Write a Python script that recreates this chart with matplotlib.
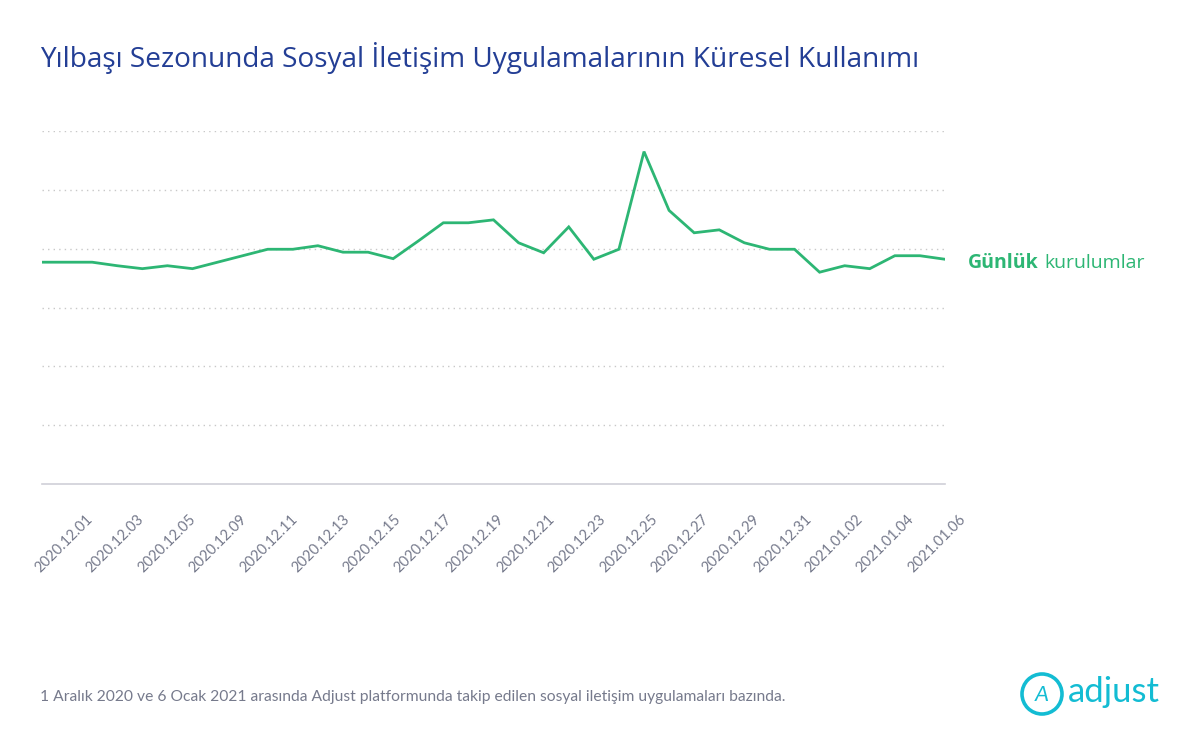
import matplotlib
matplotlib.use("Agg")
import matplotlib.pyplot as plt
from matplotlib.patches import Circle
import numpy as np

# daily installs (relative index), 2020.12.01 .. 2021.01.06
days = list(range(37))
installs = [377, 377, 377, 371, 366, 371, 366, 377, 388, 399,
            399, 405, 394, 394, 383, 413, 444, 444, 449, 410,
            393, 437, 382, 399, 565, 465, 427, 432, 410, 399,
            399, 360, 371, 366, 388, 388, 382]

tick_labels = ['2020.12.01', '2020.12.03', '2020.12.05', '2020.12.09', '2020.12.11',
               '2020.12.13', '2020.12.15', '2020.12.17', '2020.12.19', '2020.12.21',
               '2020.12.23', '2020.12.25', '2020.12.27', '2020.12.29', '2020.12.31',
               '2021.01.02', '2021.01.04', '2021.01.06']

green = '#2db674'
navy = '#233e95'
grey = '#767a8c'

plt.rcParams['font.family'] = ['Lato', 'DejaVu Sans']

fig = plt.figure(figsize=(12, 7.44), dpi=100)
ax = fig.add_axes([0.035, 1 - 484 / 744, 0.7525, (484 - 131) / 744])

ax.plot(days, installs, color=green, lw=2.0, solid_joinstyle='miter')
ax.set_xlim(0, 36)
ax.set_ylim(0, 600)
ax.set_yticks([100, 200, 300, 400, 500, 600])
ax.yaxis.grid(True, linestyle=(0, (1, 3)), color='#c8c8c8', lw=1)
ax.tick_params(axis='y', length=0, labelleft=False)
for s in ['top', 'right', 'left']:
    ax.spines[s].set_visible(False)
ax.spines['bottom'].set_color('#d0d0d8')
ax.spines['bottom'].set_linewidth(1.2)

ax.set_xticks(np.linspace(0.88, 35.67, len(tick_labels)))
ax.set_xticklabels(tick_labels, rotation=45, ha='center', fontsize=10.5, color=grey)
ax.tick_params(axis='x', length=0, pad=20)

fig.text(40 / 1200, 1 - 58 / 744, 'Yılbaşı Sezonunda Sosyal İletişim Uygulamalarının Küresel Kullanımı',
         fontsize=20.2, color=navy, va='center', ha='left', weight='medium',
         family=['Open Sans', 'DejaVu Sans'])

t1 = fig.text(968 / 1200, 1 - 263 / 744, 'Günlük', fontsize=14, color=green, weight='bold',
              va='center', ha='left', family=['Open Sans', 'DejaVu Sans'])
fig.canvas.draw()
bb = t1.get_window_extent()
fig.text(bb.x1 / 1200 + 6 / 1200, 1 - 263 / 744, 'kurulumlar', fontsize=14, color=green,
         va='center', ha='left', family=['Open Sans', 'DejaVu Sans'])

fig.text(40 / 1200, 1 - 697 / 744,
         '1 Aralık 2020 ve 6 Ocak 2021 arasında Adjust platformunda takip edilen sosyal iletişim uygulamaları bazında.',
         fontsize=11.25, color=grey, va='center', ha='left')

# adjust logo
cyan = '#13bcd3'
lax = fig.add_axes([0, 0, 1, 1], facecolor='none')
lax.set_xlim(0, 1200)
lax.set_ylim(744, 0)
lax.axis('off')
lax.add_patch(Circle((1042, 694), 20, fill=False, ec=cyan, lw=2.6))
lax.text(1042, 695, 'A', fontsize=16, color=cyan, ha='center', va='center', style='italic')
lax.text(1068, 692, 'adjust', fontsize=25, color=cyan, ha='left', va='center')

fig.savefig('out.png', dpi=100)
